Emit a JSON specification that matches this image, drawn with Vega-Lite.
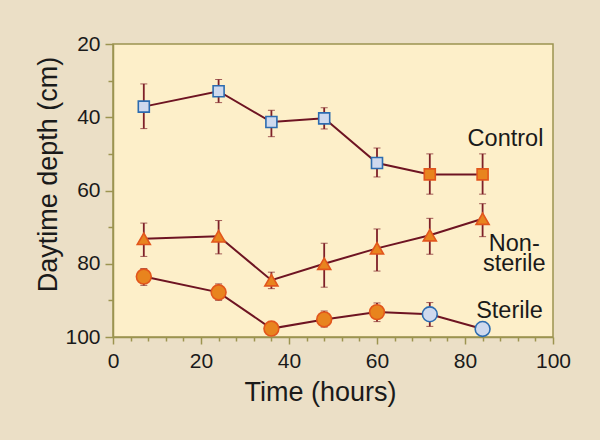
{
  "$schema": "https://vega.github.io/schema/vega-lite/v6.json",
  "width": 440,
  "height": 293,
  "autosize": {"type": "none"},
  "padding": {"left": 113, "top": 44, "right": 47, "bottom": 103},
  "background": "#EBDFC6",
  "config": {
    "view": {"fill": "#FDEFC9", "stroke": "#9C9450", "strokeWidth": 1.5},
    "font": "Liberation Sans",
    "axis": {
      "domainColor": "#9C9450", "domainWidth": 1.5, "tickColor": "#9C9450", "tickWidth": 1.5,
      "labelColor": "#1a1a1a", "titleColor": "#1a1a1a", "labelFont": "Liberation Sans", "titleFont": "Liberation Sans",
      "labelFontSize": 21, "titleFontSize": 27, "titleFontWeight": "normal", "grid": false
    }
  },
  "datasets": {
    "points": [
      {"series": "Control", "time": 7, "depth": 37.1, "lo": 30.9, "hi": 43.1, "group": "1"},
      {"series": "Control", "time": 24, "depth": 32.9, "lo": 29.7, "hi": 36.0, "group": "1"},
      {"series": "Control", "time": 36, "depth": 41.3, "lo": 38.1, "hi": 45.3, "group": "1"},
      {"series": "Control", "time": 48, "depth": 40.3, "lo": 37.4, "hi": 43.2, "group": "1"},
      {"series": "Control", "time": 60, "depth": 52.5, "lo": 48.4, "hi": 56.3, "group": "1"},
      {"series": "Control", "time": 72, "depth": 55.6, "lo": 50.0, "hi": 61.0, "group": "2"},
      {"series": "Control", "time": 84, "depth": 55.6, "lo": 50.0, "hi": 61.0, "group": "2"},
      {"series": "Nonsterile", "time": 7, "depth": 73.2, "lo": 68.9, "hi": 78.0, "group": "2"},
      {"series": "Nonsterile", "time": 24, "depth": 72.5, "lo": 68.2, "hi": 77.3, "group": "2"},
      {"series": "Nonsterile", "time": 36, "depth": 84.5, "lo": 82.3, "hi": 86.8, "group": "2"},
      {"series": "Nonsterile", "time": 48, "depth": 80.0, "lo": 74.4, "hi": 86.4, "group": "2"},
      {"series": "Nonsterile", "time": 60, "depth": 75.8, "lo": 70.5, "hi": 82.0, "group": "2"},
      {"series": "Nonsterile", "time": 72, "depth": 72.2, "lo": 67.6, "hi": 77.4, "group": "2"},
      {"series": "Nonsterile", "time": 84, "depth": 67.7, "lo": 63.6, "hi": 72.6, "group": "2"},
      {"series": "Sterile", "time": 7, "depth": 83.5, "lo": 81.3, "hi": 85.9, "group": "2"},
      {"series": "Sterile", "time": 24, "depth": 87.8, "lo": 85.5, "hi": 90.0, "group": "2"},
      {"series": "Sterile", "time": 36, "depth": 97.7, "lo": null, "hi": null, "group": "2"},
      {"series": "Sterile", "time": 48, "depth": 95.2, "lo": 92.9, "hi": 97.3, "group": "2"},
      {"series": "Sterile", "time": 60, "depth": 93.2, "lo": 90.7, "hi": 95.8, "group": "2"},
      {"series": "Sterile", "time": 72, "depth": 93.8, "lo": 90.6, "hi": 97.1, "group": "1"},
      {"series": "Sterile", "time": 84, "depth": 97.8, "lo": null, "hi": null, "group": "1"}
    ],
    "labels": [
      {"text": "Control", "time": 89.2, "depth": 47.8},
      {"text": "Non-\nsterile", "time": 91.2, "depth": 76.6},
      {"text": "Sterile", "time": 90.1, "depth": 94.8}
    ]
  },
  "encoding": {
    "x": {"field": "time", "type": "quantitative", "scale": {"domain": [0, 100], "nice": false},
      "axis": {
        "values": [0,4,8,12,16,20,24,28,32,36,40,44,48,52,56,60,64,68,72,76,80,84,88,92,96,100],
        "labelExpr": "datum.value % 20 === 0 ? datum.label : ''",
        "tickSize": {"condition": {"test": "datum.value % 20 === 0", "value": 7}, "value": 4},
        "labelPadding": 6, "labelFlush": false, "labelOverlap": false, "labelBound": false,
        "title": "Time (hours)", "titleX": 207, "titleY": 55, "titleBaseline": "middle", "titleAnchor": null
      }},
    "y": {"field": "depth", "type": "quantitative", "scale": {"domain": [20, 100], "reverse": true, "nice": false},
      "axis": {
        "values": [20,30,40,50,60,70,80,90,100],
        "labelExpr": "datum.value % 20 === 0 ? datum.label : ''",
        "tickSize": {"condition": {"test": "datum.value % 20 === 0", "value": 8}, "value": 5},
        "labelPadding": 5, "labelFlush": false, "labelOverlap": false,
        "title": "Daytime depth (cm)", "titleX": -65, "titleY": 130, "titleAngle": -90, "titleBaseline": "middle", "titleAlign": "center"
      }}
  },
  "layer": [
    {
      "data": {"name": "points"},
      "transform": [{"filter": "isValid(datum.lo)"}],
      "mark": {"type": "errorbar", "ticks": {"size": 7, "color": "#7E2028", "strokeWidth": 1.8}, "rule": {"color": "#7E2028", "strokeWidth": 1.8}},
      "encoding": {
        "y": {"field": "lo", "type": "quantitative"},
        "y2": {"field": "hi"}
      }
    },
    {
      "data": {"name": "points"},
      "mark": {"type": "line", "color": "#6E1422", "strokeWidth": 2},
      "encoding": {
        "detail": {"field": "series"}
      }
    },
    {
      "data": {"name": "points"},
      "mark": {"type": "point", "filled": false, "opacity": 1, "strokeWidth": 1.6},
      "encoding": {
        "shape": {"field": "series", "type": "nominal", "scale": {"domain": ["Control", "Nonsterile", "Sterile"], "range": ["square", "triangle-up", "circle"]}, "legend": null},
        "size": {"field": "series", "type": "nominal", "scale": {"domain": ["Control", "Nonsterile", "Sterile"], "range": [121, 220, 90]}, "legend": null},
        "fill": {"field": "group", "type": "nominal", "scale": {"domain": ["1", "2"], "range": ["#CED9EE", "#E8841E"]}, "legend": null},
        "stroke": {"field": "group", "type": "nominal", "scale": {"domain": ["1", "2"], "range": ["#2C6CB0", "#E2561C"]}, "legend": null}
      }
    },
    {
      "data": {"name": "labels"},
      "mark": {"type": "text", "font": "Liberation Sans", "fontSize": 23.5, "align": "center", "baseline": "alphabetic", "lineBreak": "\n", "lineHeight": 20, "color": "#1a1a1a"},
      "encoding": {
        "text": {"field": "text"}
      }
    }
  ]
}
